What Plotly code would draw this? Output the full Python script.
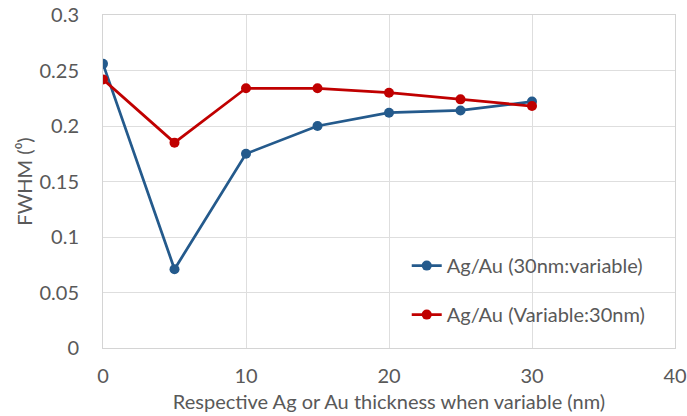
import plotly.graph_objects as go

thickness = [0, 5, 10, 15, 20, 25, 30]
fwhm_30nm_variable = [0.256, 0.071, 0.175, 0.200, 0.212, 0.214, 0.222]
fwhm_variable_30nm = [0.242, 0.185, 0.234, 0.234, 0.230, 0.224, 0.218]
names = ["Ag/Au (30nm:variable)", "Ag/Au (Variable:30nm)"]
colors = ["#245A8C", "#C00000"]
x_ticks = [0, 10, 20, 30, 40]
y_ticks = [0, 0.05, 0.1, 0.15, 0.2, 0.25, 0.3]
y_ticklabels = ["0", "0.05", "0.1", "0.15", "0.2", "0.25", "0.3"]

FONT = "Lato"
TXT = "#595959"
FS = 20

fig = go.Figure()
for i, ys in enumerate([fwhm_30nm_variable, fwhm_variable_30nm]):
    fig.add_trace(go.Scatter(
        x=thickness, y=ys, name=names[i], mode="lines+markers",
        line=dict(color=colors[i], width=2.75),
        marker=dict(color=colors[i], size=10, symbol="circle"),
        legendgroup=f"g{i}",
    ))

fig.update_layout(
    width=687, height=416,
    margin=dict(l=103, r=12, t=15, b=68),
    paper_bgcolor="white", plot_bgcolor="white",
    font=dict(family=FONT, size=FS, color=TXT),
    showlegend=True,
    legend=dict(
        x=0.531, y=0.306, xanchor="left", yanchor="top",
        bgcolor="rgba(0,0,0,0)", font=dict(family=FONT, size=FS, color=TXT),
        tracegroupgap=20, traceorder="grouped",
    ),
    xaxis=dict(
        range=[0, 40], tickvals=x_ticks, ticktext=[str(v) for v in x_ticks],
        showgrid=True, gridcolor="#DEDEDE", gridwidth=1,
        showline=True, linecolor="#D4D4D4", linewidth=1, mirror=True,
        zeroline=False, ticks="", ticklen=0, automargin=False,
        ticklabelstandoff=10,
        title=dict(text="Respective Ag or Au thickness when variable (nm)",
                   font=dict(family=FONT, size=FS, color=TXT), standoff=8),
        tickfont=dict(family=FONT, size=FS, color=TXT),
    ),
    yaxis=dict(
        range=[0, 0.3], tickvals=y_ticks, ticktext=y_ticklabels,
        showgrid=True, gridcolor="#DEDEDE", gridwidth=1,
        showline=True, linecolor="#D4D4D4", linewidth=1, mirror=True,
        zeroline=False, ticks="", ticklen=0, automargin=False,
        ticklabelstandoff=19,
        title=dict(text="FWHM (\u2070)",
                   font=dict(family=FONT, size=FS, color=TXT), standoff=1),
        tickfont=dict(family=FONT, size=FS, color=TXT),
    ),
)

fig.write_html("out.html", config={"displayModeBar": False},
               post_script="document.body.style.margin='0';")
